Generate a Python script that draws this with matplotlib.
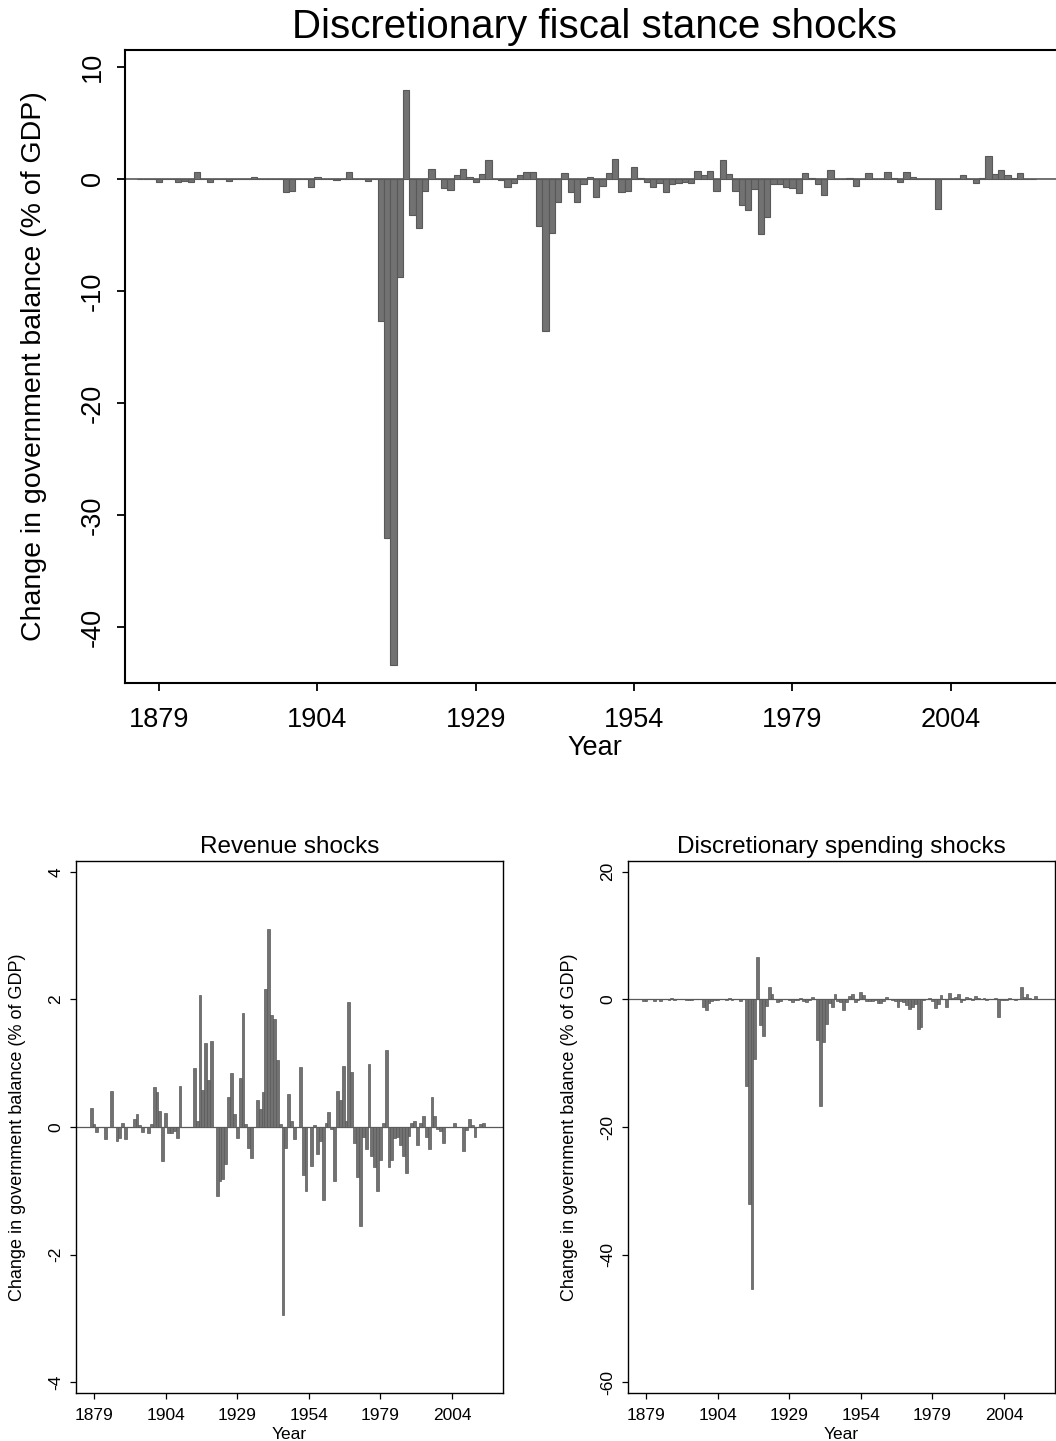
import numpy as np
import matplotlib.pyplot as plt

plt.rcParams['font.family'] = ['Liberation Sans', 'DejaVu Sans']
plt.rcParams['axes.unicode_minus'] = False

# annual shocks, change in government balance in % of GDP
years = list(range(1876, 2018))

stance = [
    0, 0, 0, -0.25,                                                   # 1876-79
    -0.05, 0, -0.25, -0.2, -0.25, 0.65, 0, -0.25, 0, 0,               # 1880s
    -0.15, 0, 0, 0, 0.15, 0, 0, 0, 0, -1.2,                           # 1890s
    -1.05, 0, 0, -0.7, 0.2, 0, 0, -0.1, 0, 0.6,                       # 1900s
    0, 0, -0.2, 0, -12.7, -32.05, -43.4, -8.8, 7.95, -3.25,           # 1910s
    -4.35, -1.05, 0.85, -0.05, -0.8, -1.0, 0.3, 0.9, 0.2, -0.3,       # 1920s
    0.4, 1.7, -0.05, -0.1, -0.7, -0.35, 0.3, 0.65, 0.65, -4.2,        # 1930s
    -13.6, -4.85, -2.1, 0.5, -1.2, -2.1, -0.5, 0.15, -1.6, -0.6,      # 1940s
    0.5, 1.8, -1.2, -1.1, 1.1, 0.05, -0.25, -0.75, -0.4, -1.2,        # 1950s
    -0.5, -0.35, -0.25, -0.4, 0.7, 0.35, 0.7, -1.1, 1.7, 0.45,        # 1960s
    -1.1, -2.3, -2.8, -0.9, -4.9, -3.4, -0.5, -0.5, -0.7, -0.8,       # 1970s
    -1.3, 0.5, 0.05, -0.5, -1.4, 0.8, 0, 0, 0.1, -0.6,                # 1980s
    -0.05, 0.55, 0, 0, 0.65, 0.1, -0.25, 0.65, 0.15, 0,               # 1990s
    0, 0, -2.7, -0.05, -0.05, 0, 0.3, 0, -0.4, 0.05,                  # 2000s
    2.05, 0.4, 0.75, 0.3, 0.05, 0.55, 0, 0,                           # 2010s
]

revenue = [
    0, 0, 0.3, 0.05,
    -0.08, 0, 0, -0.19, 0, 0.57, 0, -0.22, -0.18, 0.07,
    -0.19, 0, 0, 0.12, 0.2, 0.03, -0.08, 0, -0.09, 0.04,
    0.63, 0.55, 0.25, -0.54, 0.22, -0.09, -0.1, -0.07, -0.17, 0.65,
    0, 0, 0, 0, 0.93, 0.09, 2.07, 0.58, 1.31, 0.73,
    1.35, 0, -1.08, -0.84, -0.81, -0.58, 0.47, 0.85, 0.2, -0.18,
    0.77, 1.78, 0.05, -0.33, -0.48, 0, 0.43, 0.29, 0.55, 2.17,
    3.1, 1.75, 1.7, 1.05, 0.04, -2.95, -0.33, 0.51, 0.09, -0.19,
    0, 0.94, -0.75, -1.0, 0, -0.61, 0.03, -0.43, -0.22, -1.14,
    0.07, 0.24, -0.03, -0.85, 0.57, 0.43, 0.95, 0.09, 1.96, 0.87,
    -0.25, -0.79, -1.55, -0.15, -0.34, 0.98, -0.46, -0.63, -1.0, -0.51,
    0.06, 1.21, -0.62, -0.52, -0.18, -0.16, -0.29, -0.45, -0.72, -0.14,
    0.07, 0.1, -0.29, 0.06, 0.18, -0.16, -0.34, 0.47, 0.17, -0.03,
    -0.06, -0.25, 0, 0, 0, 0.07, 0, 0, -0.38, -0.05,
    0.12, 0.03, -0.16, 0, 0.04, 0.07, 0, 0,
]

spending = [
    0, 0, -0.3, -0.3,
    0.03, 0, -0.25, -0.01, -0.25, 0.08, 0, -0.03, 0.18, -0.07,
    0.04, 0, 0, -0.12, -0.05, -0.03, 0.08, 0, 0.09, -1.24,
    -1.68, -0.55, -0.25, -0.16, -0.02, 0.09, 0.1, -0.03, 0.17, -0.05,
    0, 0, -0.2, 0, -13.63, -32.14, -45.47, -9.38, 6.64, -3.98,
    -5.7, -1.05, 1.93, 0.79, 0.01, -0.42, -0.17, 0.05, 0, -0.12,
    -0.37, -0.08, -0.1, 0.23, -0.22, -0.35, -0.13, 0.36, 0.1, -6.37,
    -16.7, -6.6, -3.8, -0.55, -1.24, 0.85, -0.17, -0.36, -1.69, -0.41,
    0.5, 0.86, -0.45, -0.1, 1.1, 0.66, -0.28, -0.32, -0.18, -0.06,
    -0.57, -0.59, -0.22, 0.45, 0.13, -0.08, -0.25, -1.19, -0.26, -0.42,
    -0.85, -1.51, -1.25, -0.75, -4.56, -4.38, -0.04, 0.13, 0.3, -0.29,
    -1.36, -0.71, 0.67, 0.02, -1.22, 0.96, 0.29, 0.45, 0.82, -0.46,
    -0.12, 0.45, 0.29, -0.06, 0.47, 0.26, 0.09, 0.18, -0.02, 0.03,
    0.06, 0.25, -2.7, -0.05, -0.05, -0.07, 0.3, 0, -0.02, 0.1,
    1.93, 0.37, 0.91, 0.3, 0.01, 0.48, 0, 0,
]

xticks = [1879, 1904, 1929, 1954, 1979, 2004]
ylabel = 'Change in government balance (% of GDP)'
BAR = '#727272'
EDGE = '#595959'

W, H = 1056, 1441
fig = plt.figure(figsize=(W / 100, H / 100), dpi=100)

def px_axes(left, top, right, bottom):
    return fig.add_axes([left / W, 1 - bottom / H, (right - left) / W, (bottom - top) / H])

def panel(ax, vals, title, yt, ylim, big):
    ax.bar(years, vals, width=1.0, color=BAR, edgecolor=EDGE, linewidth=0.8 if big else 0.5)
    ax.axhline(0, color=EDGE, lw=1.2 if big else 0.9, zorder=0.5)
    ax.set_xlim(1872.7, 2021.8)
    ax.set_ylim(*ylim)
    ax.set_xticks(xticks)
    ax.set_yticks(yt)
    fs_tick = 19.5 if big else 12.5
    ax.tick_params(axis='both', direction='out', length=6 if big else 4,
                   width=1.3 if big else 0.9, labelsize=fs_tick,
                   pad=8 if big else 5)
    ax.tick_params(axis='x', pad=11 if big else 7)
    for lab in ax.get_yticklabels():
        lab.set_rotation(90)
        lab.set_va('center')
    for s in ax.spines.values():
        s.set_linewidth(1.5 if big else 1.0)
    ax.set_title(title, fontsize=29 if big else 17.5, pad=9 if big else 6)
    ax.set_xlabel('Year', fontsize=19.5 if big else 12.5, labelpad=2 if big else 3)
    ax.set_ylabel(ylabel, fontsize=20.5 if big else 13)

# headline series
ax1 = px_axes(125, 50, 1064, 683)
panel(ax1, stance, 'Discretionary fiscal stance shocks',
      [-40, -30, -20, -10, 0, 10], (-45.0, 11.5), True)
ax1.set_xlim(1873.6, 2021.9)
ax1.yaxis.set_label_coords((47 - 125) / 939, 0.5)

# revenue component
ax2 = px_axes(76, 861, 503, 1393)
panel(ax2, revenue, 'Revenue shocks', [-4, -2, 0, 2, 4], (-4.17, 4.17), False)
ax2.yaxis.set_label_coords((26 - 76) / 427, 0.5)

# spending component
ax3 = px_axes(628, 861, 1055, 1393)
panel(ax3, spending, 'Discretionary spending shocks',
      [-60, -40, -20, 0, 20], (-61.7, 21.7), False)
ax3.yaxis.set_label_coords((578 - 628) / 427, 0.5)

fig.savefig('out.png', dpi=100)
